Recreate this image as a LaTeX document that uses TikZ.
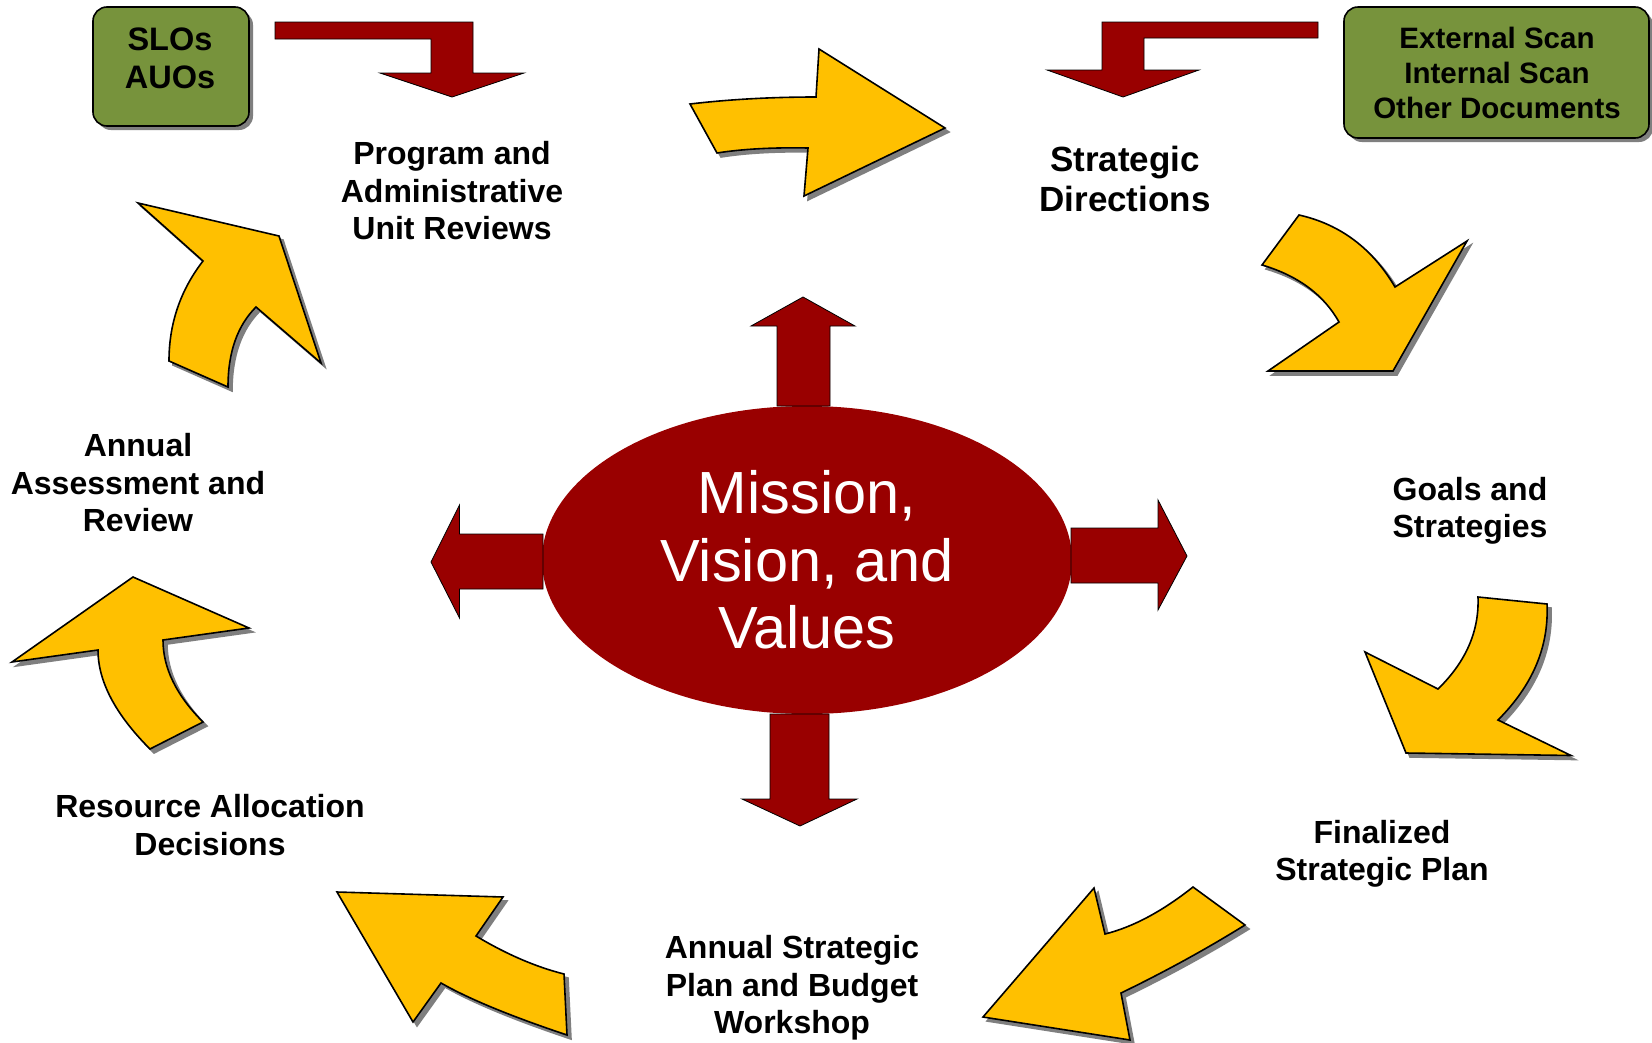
\documentclass[tikz,border=0pt]{standalone}
\usepackage{fontspec}
\setmainfont{Liberation Sans}
\usetikzlibrary{shapes.geometric,shadows}
\definecolor{mvred}{HTML}{990000}
\definecolor{ayellow}{HTML}{FFC000}
\definecolor{boxgreen}{HTML}{77933C}
\definecolor{shadowgray}{HTML}{7F7F7F}
\tikzset{
  yarrow/.style={fill=ayellow, draw=black, line width=1.6pt, line join=miter, miter limit=20},
  yshadow/.style={fill=shadowgray, draw=shadowgray, line width=1.6pt, line join=miter, miter limit=20},
  rarrow/.style={fill=mvred, draw=black, line width=0.8pt, line join=miter},
  gbox/.style={rectangle, rounded corners=14pt, fill=boxgreen, draw=black, line width=1.6pt,
     drop shadow={shadow xshift=4pt, shadow yshift=-4pt, fill=shadowgray, opacity=1}},
  lbl/.style={font=\bfseries\fontsize{32}{37.5}\selectfont, align=center, inner sep=0pt},
}
\newcommand\pathYA{(690,104) .. controls (730,99.3) and (772,97) .. (816,97) -- (819,49) -- (945,128) -- (804,196) -- (808,148) .. controls (772.7,147.3) and (742.3,149) .. (717,153) -- cycle}
\newcommand\pathYB{(1299,215) -- (1262,265) .. controls (1298,275.7) and (1323.7,294.7) .. (1339,322) -- (1268,371) -- (1393,371) -- (1467,241) -- (1395,287) .. controls (1372.3,248.3) and (1340.3,224.3) .. (1299,215) -- cycle}
\newcommand\pathYC{(1478,597) -- (1547,604) .. controls (1549,646.7) and (1532.7,685.3) .. (1498,720) -- (1571,755.5) -- (1406,753) -- (1365,652) -- (1438,689) .. controls (1466,661.7) and (1479.3,631) .. (1478,597) -- cycle}
\newcommand\pathYD{(1193,887) -- (1245,925) .. controls (1206.3,949) and (1165,971.7) .. (1121,993) -- (1130,1040) -- (983,1017) -- (1094,888) -- (1105,934) .. controls (1133,927) and (1162.3,911.3) .. (1193,887) -- cycle}
\newcommand\pathYE{(337,892) -- (503,897) -- (476,936) .. controls (506.5,954.3) and (535.8,966.9) .. (564,974) -- (567,1035) .. controls (511,1016.3) and (469,999) .. (441,983) -- (413,1022) -- cycle}
\newcommand\pathYF{(133,577) -- (249,628) -- (163,640) .. controls (163,668) and (176.3,695.3) .. (203,722) -- (150,749) .. controls (115.3,714.3) and (98,681.3) .. (98,650) -- (12,662) -- cycle}
\newcommand\pathYG{(138,203) -- (279,236) -- (321,363) -- (256,307) .. controls (237.3,325.7) and (228,352.3) .. (228,387) -- (169,361) .. controls (169,323.7) and (180.3,290.3) .. (203,261) -- cycle}
\begin{document}
\begin{tikzpicture}[x=1pt,y=-1pt]
\fill[white] (0,0) rectangle (1652,1042);
\useasboundingbox (0,0) rectangle (1652,1042);

% yellow cycle arrows
\foreach \p in {\pathYA,\pathYB,\pathYC,\pathYD,\pathYE,\pathYF,\pathYG}{
  \begin{scope}[shift={(4,4)}]
    \filldraw[yshadow] \p;
  \end{scope}
  \filldraw[yarrow] \p;
}

% central ellipse
\node[ellipse, fill=mvred, minimum width=530pt, minimum height=308pt, inner sep=0pt,
      text=white, align=center, font=\fontsize{59.5}{67.5}\selectfont] (mvv) at (807,560)
      {Mission,\\Vision, and\\Values};

% four red arrows out of the ellipse
\filldraw[rarrow] (777,406) -- (777,326) -- (751,326) -- (803,297) -- (855,326) -- (830,326) -- (830,406) -- cycle;
\filldraw[rarrow] (770,714) -- (770,799) -- (742,799) -- (800,826) -- (857,799) -- (829,799) -- (829,714) -- cycle;
\filldraw[rarrow] (543,534) -- (459.5,534) -- (459.5,505) -- (431,562) -- (459.5,618) -- (459.5,589) -- (543,589) -- cycle;
\filldraw[rarrow] (1071,528) -- (1158,528) -- (1158,500) -- (1187,556) -- (1158,610) -- (1158,583) -- (1071,583) -- cycle;

% green boxes
\node[gbox, minimum width=156pt, minimum height=119pt] (slobox) at (171,66.5) {};
\node[lbl, font=\bfseries\fontsize{32.5}{38}\selectfont] (slotext) at (170,58.5) {SLOs\\AUOs};
\node[gbox, minimum width=305pt, minimum height=131pt] (extbox) at (1496.5,72.5) {};
\node[lbl, font=\bfseries\fontsize{29.5}{35}\selectfont] (exttext) at (1497,73) {External Scan\\Internal Scan\\Other Documents};

% bent red arrows from the boxes
\filldraw[rarrow] (275,22) -- (473,22) -- (473,73) -- (524,73) -- (452,97) -- (380,73) -- (431,73) -- (431,39) -- (275,39) -- cycle;
\filldraw[rarrow] (1318,22) -- (1318,38) -- (1144,38) -- (1144,70) -- (1199,70) -- (1123,97) -- (1047,70) -- (1102,70) -- (1102,22) -- cycle;

% stage labels
\node[lbl] (program) at (452,191) {Program and\\Administrative\\Unit Reviews};
\node[lbl, font=\bfseries\fontsize{35}{40}\selectfont] (strat) at (1125,179) {Strategic\\Directions};
\node[lbl] (goals) at (1470,511) {Goals and\\Strategies};
\node[lbl] (final) at (1382,854) {Finalized\\Strategic Plan};
\node[lbl] (workshop) at (792,988) {Annual Strategic\\Plan and Budget\\Workshop};
\node[lbl] (resource) at (210,825) {Resource Allocation\\Decisions};
\node[lbl] (assess) at (138,483) {Annual\\Assessment and\\Review};
\end{tikzpicture}
\end{document}
